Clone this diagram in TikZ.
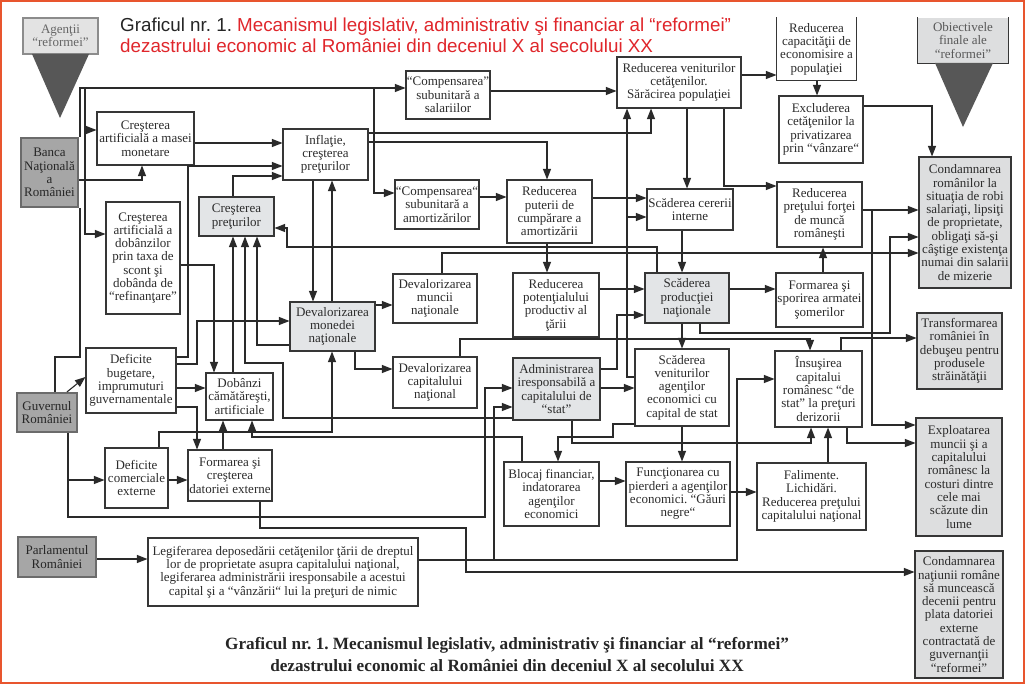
\documentclass[tikz,border=0pt]{standalone}
\usepackage{fontspec}
\setmainfont{Liberation Serif}
\newfontfamily\titlesans{Liberation Sans}
\usetikzlibrary{arrows.meta}
\frenchspacing
\definecolor{bc}{HTML}{363636}
\definecolor{lc}{HTML}{2A2A2A}
\definecolor{tc}{HTML}{2C2C2C}
\definecolor{lg}{HTML}{E3E5E7}
\definecolor{mg}{HTML}{A6A6A6}
\definecolor{rg}{HTML}{DDDEDF}
\definecolor{tri}{HTML}{575757}
\definecolor{titred}{HTML}{E0262B}
\definecolor{framec}{HTML}{E8552E}
\tikzset{
  box/.style={draw=bc, line width=1.1pt, fill=white, align=center, inner sep=0pt, text=tc, font=\fontsize{13}{13.3}\selectfont},
  gbox/.style={box, fill=lg},
  rbox/.style={box, fill=rg},
  mbox/.style={box, fill=mg, draw=black!58, line width=2.2pt, text=black!85},
  sz/.style 2 args={minimum width=#1, minimum height=#2},
  arr/.style={draw=lc, line width=1.1pt, -{Triangle[length=10.5pt,width=8pt]}},
  ln/.style={draw=lc, line width=1.1pt}
}
\begin{document}
\frenchspacing
\begin{tikzpicture}[x=1pt,y=-1pt]
\useasboundingbox (0,0) rectangle (1026,685);
\fill[white] (0,0) rectangle (1026,685);
\draw[framec, line width=2pt] (1,1) rectangle (1024,683);

% titles
\node[anchor=base west, inner sep=0pt, font=\titlesans\fontsize{18.8}{20}\selectfont, text=black!85] (t1) at (120,32) {Graficul nr. 1. \textcolor{titred}{Mecanismul legislativ, administrativ şi financiar al “reformei”}};
\node[anchor=base west, inner sep=0pt, font=\titlesans\fontsize{18.8}{20}\selectfont, text=titred] (t2) at (120,53) {dezastrului economic al României din deceniul X al secolului XX};
\node[align=center, inner sep=0pt, font=\bfseries\fontsize{17.2}{22}\selectfont, text=black!85] (cap) at (507,655) {Graficul nr. 1. Mecanismul legislativ, administrativ şi financiar al “reformei”\\dezastrului economic al României din deceniul X al secolului XX};

% agents / objectives
\node[box, fill=black!11, draw=black!45, text=black!60, sz={75pt}{36pt}] (ag) at (60.5,36) {Agenţii\\“reformei”};
\fill[tri] (32,54) -- (89,54) -- (60,118) -- cycle;
\node[rbox, draw=none, text=black!65, sz={90pt}{45pt}] (obj) at (963,40.5) {Obiectivele\\finale ale\\“reformei”};
\draw[bc, line width=1.1pt] (obj.north west) -- (obj.south west) -- (obj.south east) -- (obj.north east);
\fill[tri] (935,63) -- (993,63) -- (963,127) -- cycle;

% nodes
\node[mbox, sz={57pt}{69pt}] (bnr) at (49.5,172.5) {Banca\\Naţională\\a\\României};
\node[mbox, sz={60pt}{39pt}] (guv) at (47,412.5) {Guvernul\\României};
\node[mbox, sz={78pt}{40pt}] (parl) at (57,557) {Parlamentul\\României};
\node[box, sz={97pt}{53pt}] (masa) at (145.5,138.5) {Creşterea\\artificială a masei\\monetare};
\node[box, sz={74pt}{112pt}] (dobz) at (143,258) {Creşterea\\artificială a\\dobânzilor\\prin taxa de\\scont şi\\dobânda de\\“refinanţare”};
\node[box, sz={85pt}{51pt}] (infl) at (325.5,154.5) {Inflaţie,\\creşterea\\preţurilor};
\node[gbox, sz={75pt}{39pt}] (crp) at (236.5,216.5) {Creşterea\\preţurilor};
\node[box, sz={84pt}{48pt}] (compS) at (448,95) {“Compensarea”\\subunitară a\\salariilor};
\node[box, sz={84pt}{49pt}] (compA) at (437,204.5) {“Compensarea“\\subunitară a\\amortizărilor};
\node[box, sz={85pt}{63pt}] (redP) at (549.5,211.5) {Reducerea\\puterii de\\cumpărare a\\amortizării};
\node[box, sz={124pt}{51pt}] (redV) at (679,82.5) {Reducerea veniturilor\\cetăţenilor.\\Sărăcirea populaţiei};
\node[box, draw=none, sz={79pt}{62pt}] (redC) at (816.5,49) {Reducerea\\capacităţii de\\economisire a\\populaţiei};
\draw[bc, line width=1.1pt] (redC.north west) -- (redC.south west) -- (redC.south east) -- (redC.north east);
\node[box, sz={84pt}{67pt}] (excl) at (821,129.5) {Excluderea\\cetăţenilor la\\privatizarea\\prin “vânzare“};
\node[rbox, sz={92pt}{131pt}] (cond1) at (965,222.5) {Condamnarea\\românilor la\\situaţia de robi\\salariaţi, lipsiţi\\de proprietate,\\obligaţi să-şi\\câştige existenţa\\numai din salarii\\de mizerie};
\node[box, sz={86pt}{41pt}] (scC) at (690,209.5) {Scăderea cererii\\interne};
\node[box, sz={85pt}{65pt}] (redPF) at (819.5,214.5) {Reducerea\\preţului forţei\\de muncă\\româneşti};
\node[box, sz={84pt}{49pt}] (devM) at (435,298.5) {Devalorizarea\\muncii\\naţionale};
\node[box, sz={86pt}{64pt}] (redPot) at (556,305) {Reducerea\\potenţialului\\productiv al\\ţării};
\node[gbox, sz={84pt}{50pt}] (scP) at (687,298) {Scăderea\\producţiei\\naţionale};
\node[box, sz={87pt}{54pt}] (form) at (819.5,300) {Formarea şi\\sporirea armatei\\şomerilor};
\node[gbox, sz={85pt}{49pt}] (devMon) at (332.5,326.5) {Devalorizarea\\monedei\\naţionale};
\node[box, sz={90pt}{65pt}] (defB) at (131,380.5) {Deficite\\bugetare,\\imprumuturi\\guvernamentale};
\node[box, sz={67pt}{47pt}] (dobC) at (239.5,396.5) {Dobânzi\\cămătăreşti,\\artificiale};
\node[box, sz={84pt}{51pt}] (devC) at (435,382.5) {Devalorizarea\\capitalului\\naţional};
\node[gbox, sz={87pt}{62pt}] (adm) at (556.5,389) {Administrarea\\iresponsabilă a\\capitalului de\\“stat”};
\node[box, sz={94pt}{77pt}] (scV) at (682,387.5) {Scăderea\\veniturilor\\agenţilor\\economici cu\\capital de stat};
\node[box, sz={87pt}{76pt}] (ins) at (818.5,389) {Însuşirea\\capitalui\\românesc “de\\stat” la preţuri\\derizorii};
\node[rbox, sz={85pt}{76pt}] (transf) at (959.5,351) {Transformarea\\româniei în\\debuşeu pentru\\produsele\\străinătăţii};
\node[box, sz={63pt}{60pt}] (defC) at (136.5,478) {Deficite\\comerciale\\externe};
\node[box, sz={84pt}{51pt}] (formD) at (230,475.5) {Formarea şi\\creşterea\\datoriei externe};
\node[box, sz={95pt}{64pt}] (bloc) at (551.5,494) {Blocaj financiar,\\indatorarea\\agenţilor\\economici};
\node[box, sz={104pt}{64pt}] (func) at (678,494) {Funcţionarea cu\\pierderi a agenţilor\\economici. “Găuri\\negre“};
\node[box, sz={109pt}{67pt}] (fal) at (811.5,496.5) {Falimente.\\Lichidări.\\Reducerea preţului\\capitalului naţional};
\node[rbox, sz={86pt}{118pt}] (expl) at (959,477) {Exploatarea\\muncii şi a\\capitalului\\românesc la\\costuri dintre\\cele mai\\scăzute din\\lume};
\node[box, sz={270pt}{68pt}] (leg) at (283,572) {Legiferarea deposedării cetăţenilor ţării de dreptul\\lor de proprietate asupra capitalului naţional,\\legiferarea administrării iresponsabile a acestui\\capital şi a “vânzării“ lui la preţuri de nimic};
\node[rbox, sz={88pt}{127pt}] (cond2) at (959,614.5) {Condamnarea\\naţiunii române\\să muncească\\decenii pentru\\plata datoriei\\externe\\contractată de\\guvernanţii\\“reformei”};

% junctions
\coordinate (j1) at (85,88);
\coordinate (j2) at (374,88);
\coordinate (j3) at (872,210);
\coordinate (j4) at (627,217);
\coordinate (j6) at (68,480);
\coordinate (j7) at (494,560);

% connectors
\draw[arr] (bnr.north -| 80,0) |- (compS.west |- 0,88);
\draw[arr] (j1) |- (masa.west |- 0,130);
\draw[arr] (j1) |- (dobz.west |- 0,234);
\draw[arr] (bnr.east |- 0,180) -| (masa.south -| 142,0);
\draw[ln] (bnr.south -| 80,0) |- (55,357) -- (guv.north -| 55,0);
\draw[arr] (compS.east |- 0,91) -- (redV.west |- 0,91);
\draw[arr] (j2) |- (compA.west |- 0,193);
\draw[arr] (masa.east |- 0,143) -- (infl.west |- 0,143);
\draw[arr] (crp.north -| 233,0) |- (infl.west |- 0,176);
\draw[arr] (defB.east |- 0,357) -| (188,166) -- (infl.west |- 0,166);
\draw[arr] (defB.east |- 0,364) -| (197,321) -- (devMon.west |- 0,321);
\draw[arr] (defB.east |- 0,388) -- (dobC.west |- 0,388);
\draw[arr] (defB.east |- 0,407) -| (formD.north -| 197,0);
\draw[arr] (guv.north -| 67,0) -- (defB.west |- 0,377);
\draw[arr] (dobz.east |- 0,265) -| (dobC.north -| 214,0);
\draw[arr] (dobC.north -| 233,0) -- (crp.south -| 233,0);
\draw[arr] (adm.west |- 0,418) -| (283,363) -| (crp.south -| 245,0);
\draw[arr] (devMon.west |- 0,345) -| (crp.south -| 257,0);
\draw[arr] (scP.north -| 657,0) |- (287,247) |- (crp.east |- 0,228);
\draw[arr] (infl.south -| 313,0) -- (devMon.north -| 313,0);
\draw[arr] (devMon.north -| 332,0) -- (infl.south -| 332,0);
\draw[arr] (infl.east |- 0,133) -| (redV.south -| 651,0);
\draw[arr] (infl.east |- 0,142) -| (redP.north -| 547,0);
\draw[arr] (compA.east |- 0,197) -- (redP.west |- 0,197);
\draw[arr] (redP.east |- 0,198) -- (scC.west |- 0,198);
\draw[arr] (redP.south -| 547,0) -- (redPot.north -| 547,0);
\draw[arr] (redV.east |- 0,75) -- (redC.west |- 0,75);
\draw[arr] (redV.south -| 687,0) -- (scC.north -| 687,0);
\draw[arr] (redV.south -| 724,0) |- (redPF.west |- 0,186);
\draw[arr] (redC.south -| 817,0) -- (excl.north -| 817,0);
\draw[arr] (excl.east |- 0,106) -| (cond1.north -| 932,0);
\draw[arr] (redPF.east |- 0,210) -- (cond1.west |- 0,210);
\draw[arr] (j3) |- (expl.west |- 0,425);
\draw[arr] (scC.south -| 682,0) -- (scP.north -| 682,0);
\draw[arr] (devM.north -| 442,0) |- (cond1.west |- 0,253);
\draw[arr] (scP.east |- 0,289) -- (form.west |- 0,289);
\draw[arr] (form.north -| 823,0) -- (redPF.south -| 823,0);
\draw[arr] (scP.south -| 700,0) |- (890,333) |- (cond1.west |- 0,237);
\draw[arr] (scP.south -| 682,0) -- (scV.north -| 682,0);
\draw[arr] (redPot.east |- 0,289) -- (scP.west |- 0,289);
\draw[arr] (adm.east |- 0,369) -| (617,315) -- (scP.west |- 0,315);
\draw[arr] (adm.east |- 0,388) -- (scV.west |- 0,388);
\draw[arr] (scV.west |- 0,377) -| (redV.south -| 627,0);
\draw[arr] (j4) -- (scC.west |- 0,217);
\draw[arr] (devMon.east |- 0,305) -- (devM.west |- 0,305);
\draw[arr] (devMon.south -| 355,0) |- (devC.west |- 0,369);
\draw[arr] (devC.north -| 460,0) |- (810,339) -- (ins.north -| 810,0);
\draw[arr] (ins.north -| 841,0) |- (transf.west |- 0,338);
\draw[arr] (ins.south -| 847,0) |- (expl.west |- 0,443);
\draw[arr] (adm.south -| 572,0) |- (811,443) -- (ins.south -| 811,0);
\draw[arr] (scV.south -| 682,0) -- (func.north -| 682,0);
\draw[arr] (scV.west |- 0,424) -| (613,437) -| (bloc.north -| 558,0);
\draw[arr] (bloc.north -| 522,0) |- (252,437) -- (dobC.south -| 252,0);
\draw[arr] (bloc.east |- 0,481) -- (func.west |- 0,481);
\draw[arr] (func.east |- 0,492) -- (fal.west |- 0,492);
\draw[arr] (fal.north -| 828,0) -- (ins.south -| 828,0);
\draw[arr] (defC.north -| 159,0) |- (332,432) -- (devMon.south -| 332,0);
\draw[arr] (formD.north -| 223,0) -- (dobC.south -| 223,0);
\draw[arr] (defC.east |- 0,480) -- (formD.west |- 0,480);
\draw[arr] (guv.south -| 68,0) |- (defC.west |- 0,480);
\draw[arr] (j6) |- (485,517) |- (adm.west |- 0,388);
\draw[arr] (leg.east |- 0,560) -| (494,407) -- (adm.west |- 0,407);
\draw[arr] (j7) -| (737,379) -- (ins.west |- 0,379);
\draw[arr] (formD.south -| 260,0) |- (466,528) |- (cond2.west |- 0,572);
\draw[arr] (parl.east |- 0,559) -- (leg.west |- 0,559);
\end{tikzpicture}
\end{document}
